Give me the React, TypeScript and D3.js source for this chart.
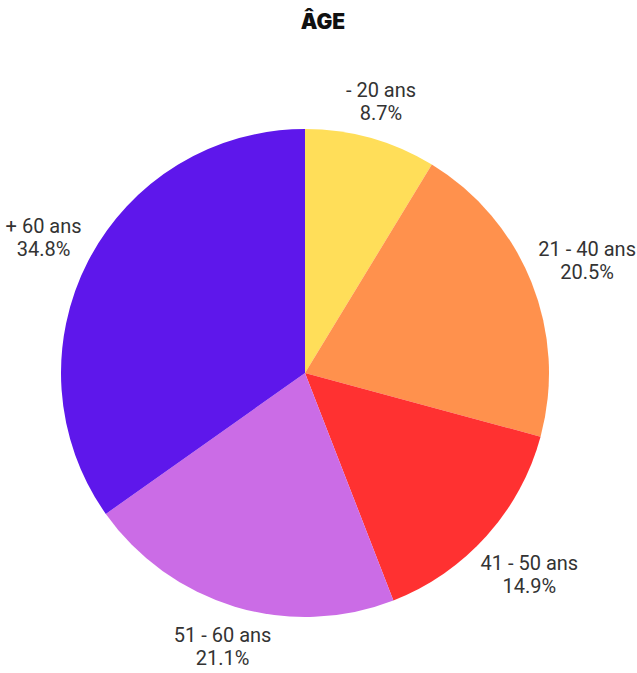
import React from "react";
import * as d3 from "d3";

const categories = ["- 20 ans", "21 - 40 ans", "41 - 50 ans", "51 - 60 ans", "+ 60 ans"];
const values = [8.7, 20.5, 14.9, 21.1, 34.8];
const colors = ["#ffde59", "#ff914d", "#ff3131", "#cb6ce6", "#5e17eb"];
const title = "ÂGE";

const W = 637;
const H = 673;
const cx = 305;
const cy = 373;
const R = 244;
const FS = 20;
const FONT = `${FS}px Roboto`;

function measure(t: string): number {
  const c = document.createElement("canvas").getContext("2d");
  if (!c) return t.length * 9.5;
  c.font = FONT;
  return c.measureText(t).width;
}

export default function App() {
  const data = categories.map((c, i) => ({ c, v: values[i], col: colors[i] }));
  const pie = d3.pie<any>().value((d) => d.v).sort(null);
  const arcs = pie(data);
  const arc = d3.arc<any>().innerRadius(0).outerRadius(R);
  const pad = 6;
  const lineH = 23;
  return (
    <svg width={W} height={H} style={{ position: "absolute", left: 0, top: 0, background: "#fff" }}>
      <text x={323} y={29} textAnchor="middle" fontFamily="Inter, 'DejaVu Sans', sans-serif" fontWeight={900} fontSize={21} fill="#111">
        {title}
      </text>
      <g transform={`translate(${cx},${cy})`}>
        {arcs.map((a, i) => (
          <path key={i} d={arc(a) || ""} fill={a.data.col} />
        ))}
        {arcs.map((a, i) => {
          const mid = (a.startAngle + a.endAngle) / 2;
          const dx = Math.sin(mid);
          const dy = -Math.cos(mid);
          const l1 = a.data.c;
          const l2 = `${a.data.v.toFixed(1)}%`;
          const w = Math.max(measure(l1), measure(l2));
          const h = 46;
          const ext = Math.abs(dx) * w / 2 + Math.abs(dy) * h / 2;
          const d = R + pad + ext;
          const x = dx * d;
          const y = dy * d;
          return (
            <g key={"l" + i} fontFamily="Roboto, sans-serif" fontSize={FS} fill="#333" textAnchor="middle">
              <text x={x} y={y - lineH / 2} dominantBaseline="central">{l1}</text>
              <text x={x} y={y + lineH / 2} dominantBaseline="central">{l2}</text>
            </g>
          );
        })}
      </g>
    </svg>
  );
}
